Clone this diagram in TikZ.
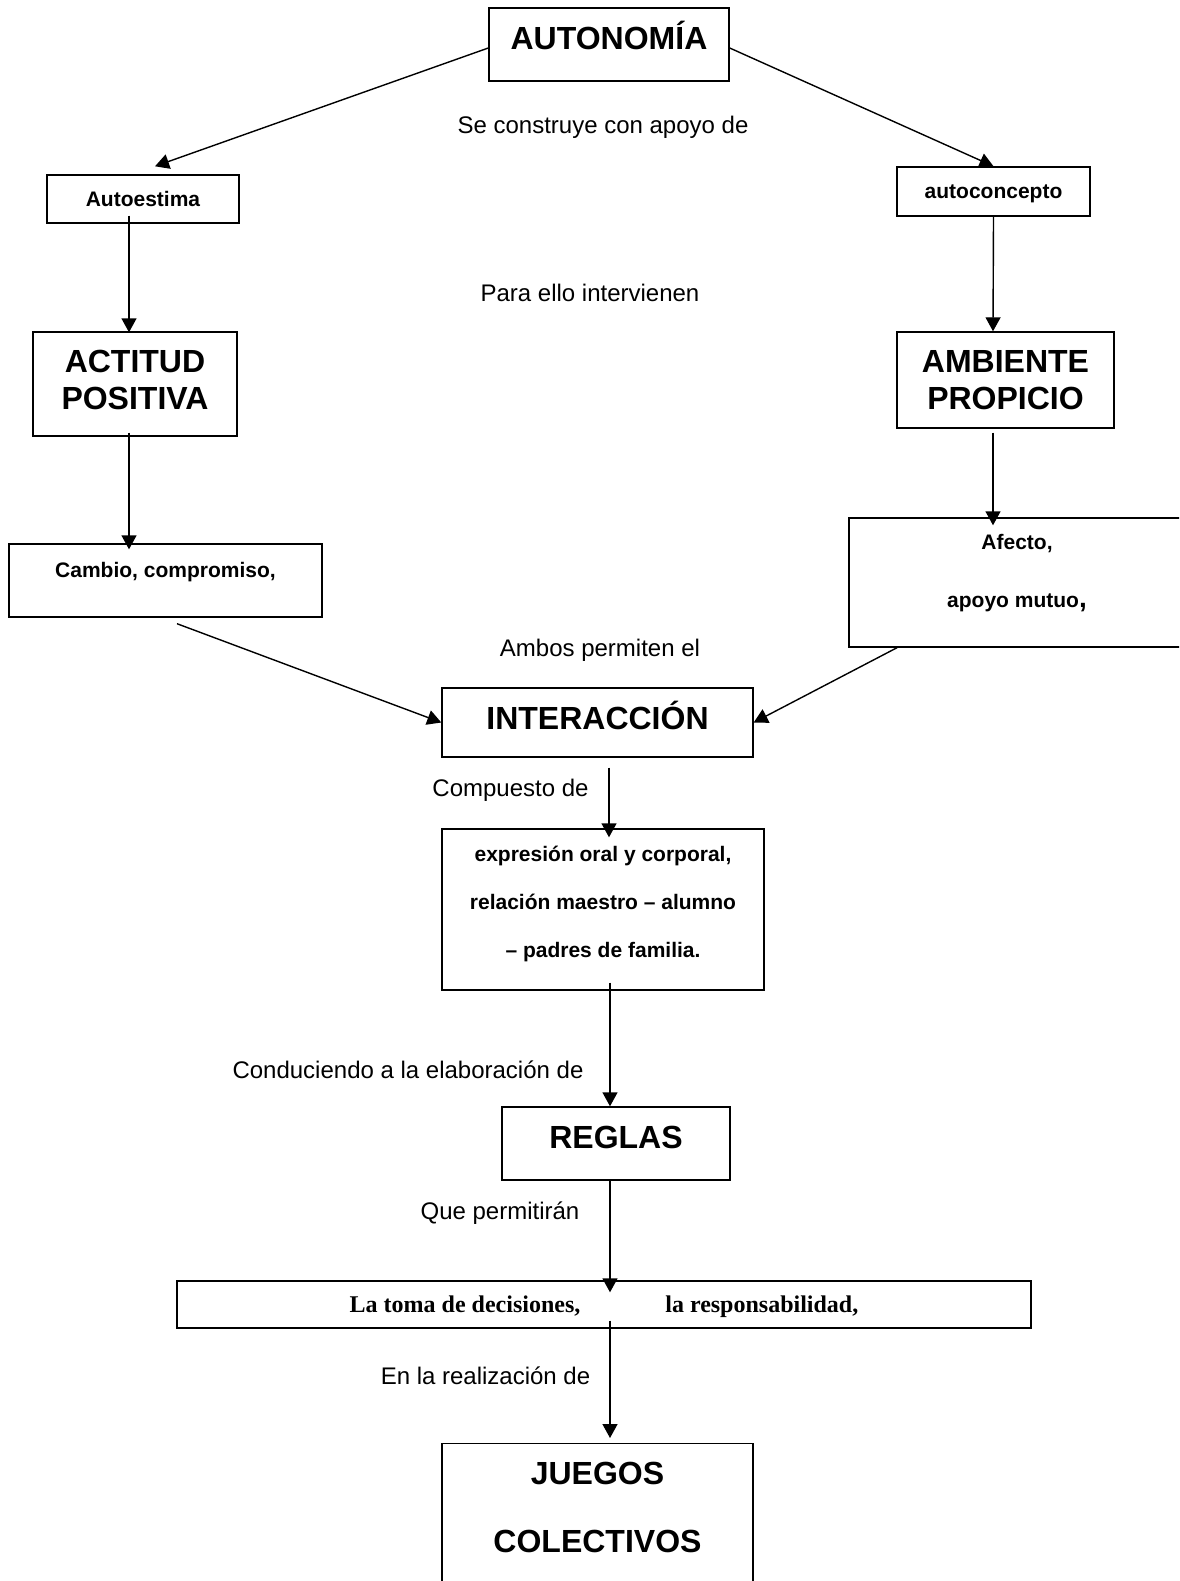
\documentclass[tikz,border=0pt]{standalone}
\usepackage{fontspec}
\setmainfont{Liberation Sans}
\newfontfamily\timesfont{Liberation Serif}
\usetikzlibrary{arrows.meta}

\begin{document}
\begin{tikzpicture}[x=1pt,y=-1pt,line width=1.4pt,>={Triangle[length=14pt,width=15pt]},
	box/.style={draw,rectangle,inner sep=0pt,align=center},
	big/.style={box,font=\bfseries\fontsize{32}{37}\selectfont,text height=23pt},
	small/.style={box,font=\bfseries\fontsize{21}{48}\selectfont,text height=15pt},
	lbl/.style={font=\fontsize{24}{28}\selectfont,text height=17pt,text depth=0pt,inner sep=0pt}]
	\useasboundingbox (0,0) rectangle (1179,1581);
	\clip (0,0) rectangle (1179,1581);
	% cajas
	\node[big,minimum width=240pt,minimum height=73pt,text depth=13pt] (autonomia) at (609,44.5) {AUTONOMÍA};
	\node[small,minimum width=192pt,minimum height=48pt,text depth=0pt] (autoestima) at (143,199) {Autoestima};
	\node[small,minimum width=193pt,minimum height=49pt,text depth=0pt] (autoconcepto) at (993.5,191.5) {autoconcepto};
	\node[big,minimum width=204pt,minimum height=104pt,text height=60pt,text depth=9pt] (actitud) at (135,384) {ACTITUD\\POSITIVA};
	\node[big,minimum width=217pt,minimum height=96pt,text height=59pt,text depth=0pt] (ambiente) at (1005.5,380) {AMBIENTE\\PROPICIO};
	\node[small,minimum width=313pt,minimum height=73pt,text depth=22pt] (cambio) at (165.5,580.5) {Cambio, compromiso,};
	\node[small,font=\bfseries\fontsize{21}{58}\selectfont,minimum width=336pt,minimum height=129pt,text height=73pt,text depth=23.5pt] (afecto) at (1017,582.5)
		{Afecto,\\apoyo mutuo{\fontsize{28}{28}\selectfont,}};
	\node[big,minimum width=311pt,minimum height=69pt,text depth=10pt] (interaccion) at (597.5,722.5) {INTERACCIÓN};
	\node[small,minimum width=322pt,minimum height=161pt,text height=111pt,text depth=15pt] (expresion) at (603,909.5)
		{expresión oral y corporal,\\relación maestro – alumno\\– padres de familia.};
	\node[big,minimum width=228pt,minimum height=73pt,text depth=13pt] (reglas) at (616,1143.5) {REGLAS};
	\node[box,font=\timesfont\bfseries\fontsize{24}{28}\selectfont,text height=16pt,text depth=0pt,minimum width=854pt,minimum height=47pt] (toma) at (604,1304.5)
		{La toma de decisiones,\hspace{85pt}la responsabilidad,};
	\node[big,font=\bfseries\fontsize{32}{68}\selectfont,anchor=north,minimum width=311pt,minimum height=200pt,text height=91pt,text depth=74pt] (juegos) at (597.5,1443) {JUEGOS\\COLECTIVOS};
	% textos de enlace
	\node[lbl] (apoyo) at (603,125) {Se construye con apoyo de};
	\node[lbl] (intervienen) at (590,292.5) {Para ello intervienen};
	\node[lbl] (ambos) at (600,648) {Ambos permiten el};
	\node[lbl] (compuesto) at (510.5,788) {Compuesto de};
	\node[lbl] (conduciendo) at (408,1069.5) {Conduciendo a la elaboración de};
	\node[lbl] (permitiran) at (500,1211) {Que permitirán};
	\node[lbl] (realizacion) at (485.5,1376) {En la realización de};
	% flechas
	\path[->]
	([yshift=-3.5pt]autonomia.west) edge ([xshift=12pt,yshift=8pt]autoestima.north)
	([yshift=-3.5pt]autonomia.east) edge (autoconcepto.north)
	([xshift=-14pt,yshift=8pt]autoestima.south) edge ([xshift=-6pt,yshift=-1pt]actitud.north)
	([xshift=-6pt,yshift=4pt]actitud.south) edge ([xshift=-36.5pt,yshift=-6pt]cambio.north)
	(autoconcepto.south) edge ([xshift=-12.5pt]ambiente.north)
	([xshift=-12.5pt,yshift=-4pt]ambiente.south) edge ([xshift=-24pt,yshift=-8pt]afecto.north)
	([xshift=11.5pt,yshift=-6pt]cambio.south) edge (interaccion.west)
	([xshift=-120pt]afecto.south) edge (interaccion.east)
	([xshift=11.5pt,yshift=-10pt]interaccion.south) edge ([xshift=6pt,yshift=-9pt]expresion.north)
	([xshift=7pt,yshift=8pt]expresion.south) edge ([xshift=-6pt]reglas.north)
	([xshift=-6pt]reglas.south) edge ([xshift=6pt,yshift=-12pt]toma.north)
	([xshift=6pt,yshift=8pt]toma.south) edge ([xshift=12.5pt,yshift=5pt]juegos.north);
\end{tikzpicture}
\end{document}
